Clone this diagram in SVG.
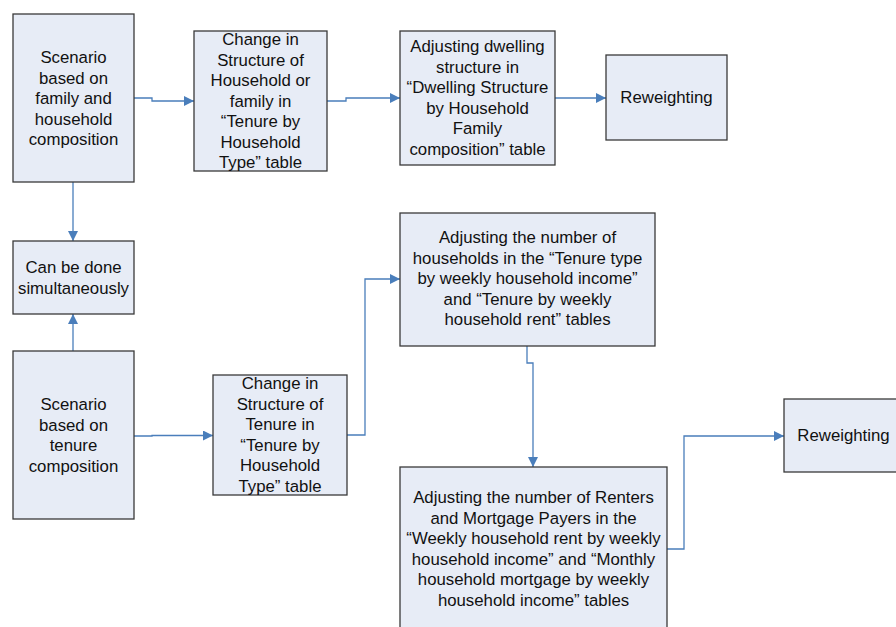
<svg xmlns="http://www.w3.org/2000/svg" width="896" height="627" viewBox="0 0 896 627">
<style>
.box{fill:#E7ECF6;stroke:#3a3a3a;stroke-width:1.3}
.t{font-family:"Liberation Sans",Arial,sans-serif;font-size:16.8px;fill:#111;text-anchor:middle}
.c{fill:none;stroke:#4A7EBB;stroke-width:1.3}
</style>
<defs>
<marker id="ah" viewBox="0 0 10 10" refX="10" refY="5" markerWidth="10" markerHeight="10" markerUnits="userSpaceOnUse" orient="auto">
<path d="M0,0 L10,5 L0,10 z" fill="#4A7EBB"/>
</marker>
</defs>
<rect width="896" height="627" fill="#fff"/>
<g id="connectors">
<path class="c" marker-end="url(#ah)" d="M134,98 H152 V101 H194"/>
<path class="c" marker-end="url(#ah)" d="M327,101 H346 V98 H400"/>
<path class="c" marker-end="url(#ah)" d="M555,98 H606"/>
<path class="c" marker-end="url(#ah)" d="M73,182 V241"/>
<path class="c" marker-end="url(#ah)" d="M73,351 V314"/>
<path class="c" marker-end="url(#ah)" d="M134,436 H152 V435.5 H213"/>
<path class="c" marker-end="url(#ah)" d="M347,435 H365 V279 H400"/>
<path class="c" marker-end="url(#ah)" d="M527,346 V363 H533 V467"/>
<path class="c" marker-end="url(#ah)" d="M667,549 H684 V436 H784"/>
</g>
<g id="n1"><rect class="box" x="13" y="14" width="121" height="168"/>
<text class="t" x="73.5" y="63">Scenario</text><text class="t" x="73.5" y="83.5">based on</text><text class="t" x="73.5" y="104">family and</text><text class="t" x="73.5" y="124.5">household</text><text class="t" x="73.5" y="145">composition</text></g>
<g id="n2"><rect class="box" x="194" y="31" width="133" height="140"/>
<text class="t" x="260.5" y="45">Change in</text><text class="t" x="260.5" y="65.5">Structure of</text><text class="t" x="260.5" y="86">Household or</text><text class="t" x="260.5" y="106.5">family in</text><text class="t" x="260.5" y="127">“Tenure by</text><text class="t" x="260.5" y="147.5">Household</text><text class="t" x="260.5" y="168">Type” table</text></g>
<g id="n3"><rect class="box" x="400" y="31" width="155" height="134"/>
<text class="t" x="477.5" y="52">Adjusting dwelling</text><text class="t" x="477.5" y="72.5">structure in</text><text class="t" x="477.5" y="93">“Dwelling Structure</text><text class="t" x="477.5" y="113.5">by Household</text><text class="t" x="477.5" y="134">Family</text><text class="t" x="477.5" y="154.5">composition” table</text></g>
<g id="n4"><rect class="box" x="606" y="55" width="121" height="85"/>
<text class="t" x="666.5" y="103">Reweighting</text></g>
<g id="n5"><rect class="box" x="13" y="241" width="121" height="73"/>
<text class="t" x="73.5" y="273">Can be done</text><text class="t" x="73.5" y="293.5">simultaneously</text></g>
<g id="n6"><rect class="box" x="13" y="351" width="121" height="168"/>
<text class="t" x="73.5" y="410">Scenario</text><text class="t" x="73.5" y="430.5">based on</text><text class="t" x="73.5" y="451">tenure</text><text class="t" x="73.5" y="471.5">composition</text></g>
<g id="n7"><rect class="box" x="213" y="375" width="134" height="120"/>
<text class="t" x="280" y="389">Change in</text><text class="t" x="280" y="409.5">Structure of</text><text class="t" x="280" y="430">Tenure in</text><text class="t" x="280" y="450.5">“Tenure by</text><text class="t" x="280" y="471">Household</text><text class="t" x="280" y="491.5">Type” table</text></g>
<g id="n8"><rect class="box" x="400" y="213" width="255" height="133"/>
<text class="t" x="527.5" y="243">Adjusting the number of</text><text class="t" x="527.5" y="263.5">households in the “Tenure type</text><text class="t" x="527.5" y="284">by weekly household income”</text><text class="t" x="527.5" y="304.5">and “Tenure by weekly</text><text class="t" x="527.5" y="325">household rent” tables</text></g>
<g id="n9"><rect class="box" x="400" y="467" width="267" height="175"/>
<text class="t" x="533.5" y="503">Adjusting the number of Renters</text><text class="t" x="533.5" y="523.5">and Mortgage Payers in the</text><text class="t" x="533.5" y="544">“Weekly household rent by weekly</text><text class="t" x="533.5" y="564.5">household income” and “Monthly</text><text class="t" x="533.5" y="585">household mortgage by weekly</text><text class="t" x="533.5" y="605.5">household income” tables</text></g>
<g id="n10"><rect class="box" x="784" y="399" width="125" height="73"/>
<text class="t" x="843.5" y="441">Reweighting</text></g>
</svg>
